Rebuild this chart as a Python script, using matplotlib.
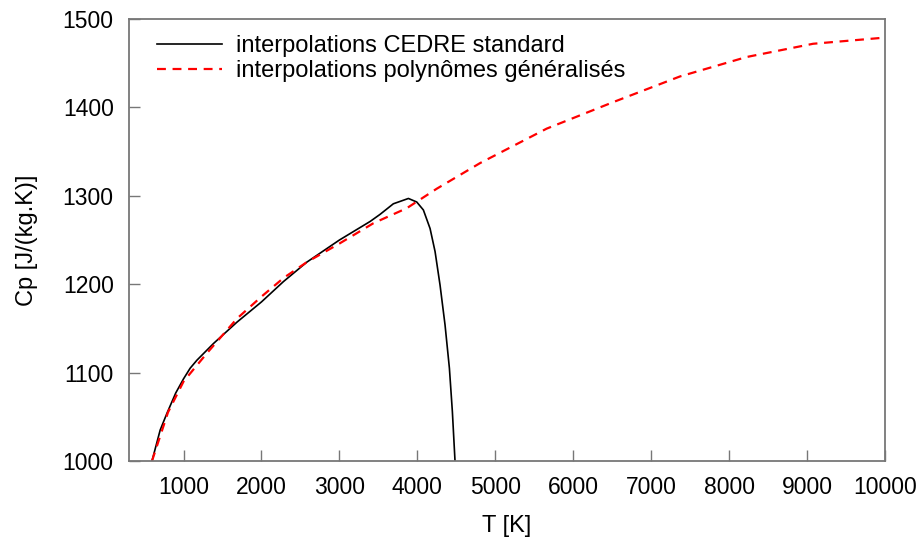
import matplotlib.pyplot as plt

plt.rcParams['font.family'] = ['Liberation Sans', 'DejaVu Sans']

# interpolations CEDRE standard
t_cedre = [595, 700, 787, 900, 1000, 1085, 1171, 1385, 1684, 2000, 2282,
           2582, 3000, 3394, 3521, 3692, 3885, 3992, 4077, 4163, 4227, 4291,
           4355, 4411, 4449, 4483]
cp_cedre = [1000, 1035, 1054, 1077, 1093, 1105, 1114, 1133, 1157, 1180, 1203,
            1225, 1250, 1271, 1279, 1291, 1297, 1293, 1284, 1263, 1237, 1199,
            1154, 1105, 1056, 1000]

# interpolations polynomes generalises
t_poly = [595, 800, 1000, 1300, 1684, 2000, 2282, 2582, 3000, 3436, 3864,
          4248, 4804, 5659, 6513, 7368, 8223, 9077, 10000]
cp_poly = [1000, 1055, 1090, 1122, 1161, 1186, 1207, 1225, 1246, 1269, 1286,
           1308, 1337, 1376, 1406, 1435, 1457, 1472, 1479]

x_ticks = list(range(1000, 10001, 1000))
y_ticks = list(range(1000, 1501, 100))

fig = plt.figure(figsize=(9.24, 5.45), dpi=100)
ax = fig.add_axes([0.1396, 0.1541, 0.8182, 0.811])

ax.plot(t_cedre, cp_cedre, color='black', lw=1.2,
        label='interpolations CEDRE standard')
ax.plot(t_poly, cp_poly, color='#ff0000', lw=1.6, dashes=(4, 3),
        label='interpolations polynômes généralisés')

ax.set_xlim(300, 10000)
ax.set_ylim(1000, 1500)
ax.set_xticks(x_ticks)
ax.set_yticks(y_ticks)
ax.tick_params(direction='in', length=8, width=1, color='#777777',
               labelsize=16.5, pad=11, top=False, right=False)
for s in ax.spines.values():
    s.set_color('#777777')
    s.set_linewidth(1.3)

ax.set_xlabel('T [K]', fontsize=17, labelpad=11)
ax.set_ylabel('Cp [J/(kg.K)]', fontsize=17, labelpad=18)

ax.legend(loc='upper left', frameon=False, fontsize=17, handlelength=2.75,
          handletextpad=0.6, borderaxespad=0.0, labelspacing=0.12,
          bbox_to_anchor=(0.025, 0.985))

fig.savefig('out.png', dpi=100)
